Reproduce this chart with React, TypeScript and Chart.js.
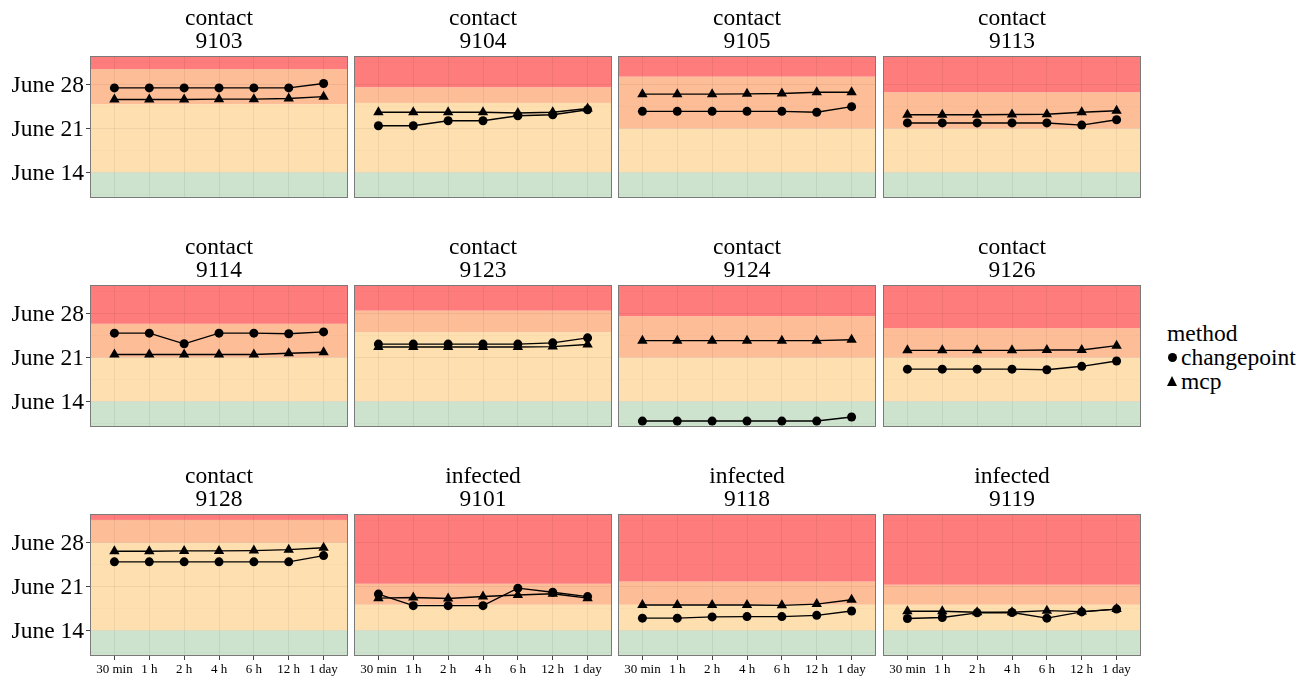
import React, { useEffect, useRef } from "react";
import { Chart, registerables } from "chart.js";
Chart.register(...registerables);

// ---------------- data ----------------
const categories = ["30 min", "1 h", "2 h", "4 h", "6 h", "12 h", "1 day"];
const groups = ["contact", "contact", "contact", "contact", "contact", "contact", "contact", "contact", "contact", "infected", "infected", "infected"];
const ids = ["9103", "9104", "9105", "9113", "9114", "9123", "9124", "9126", "9128", "9101", "9118", "9119"];

// values are day of June
const cp9103 = [27.5, 27.5, 27.5, 27.5, 27.5, 27.5, 28.2];
const mcp9103 = [25.65, 25.65, 25.65, 25.7, 25.7, 25.8, 26.1];
const cp9104 = [21.45, 21.45, 22.25, 22.25, 23.05, 23.2, 24.0];
const mcp9104 = [23.6, 23.6, 23.6, 23.6, 23.5, 23.6, 24.2];
const cp9105 = [23.75, 23.75, 23.75, 23.75, 23.75, 23.6, 24.5];
const mcp9105 = [26.5, 26.5, 26.5, 26.55, 26.6, 26.8, 26.8];
const cp9113 = [21.9, 21.9, 21.9, 21.9, 21.9, 21.55, 22.4];
const mcp9113 = [23.2, 23.2, 23.2, 23.25, 23.3, 23.6, 23.85];
const cp9114 = [24.9, 24.9, 23.2, 24.9, 24.9, 24.8, 25.1];
const mcp9114 = [21.5, 21.5, 21.5, 21.5, 21.5, 21.7, 21.85];
const cp9123 = [23.15, 23.15, 23.15, 23.15, 23.15, 23.35, 24.15];
const mcp9123 = [22.7, 22.7, 22.7, 22.7, 22.7, 22.75, 23.1];
const cp9124 = [10.85, 10.85, 10.85, 10.85, 10.85, 10.85, 11.5];
const mcp9124 = [23.7, 23.7, 23.7, 23.7, 23.7, 23.7, 23.85];
const cp9126 = [19.15, 19.15, 19.15, 19.15, 19.05, 19.6, 20.45];
const mcp9126 = [22.15, 22.15, 22.15, 22.15, 22.2, 22.2, 22.9];
const cp9128 = [24.95, 24.95, 24.95, 24.95, 24.95, 24.95, 25.95];
const mcp9128 = [26.65, 26.65, 26.7, 26.7, 26.75, 26.9, 27.2];
const cp9101 = [19.8, 17.95, 17.95, 17.95, 20.75, 20.1, 19.4];
const mcp9101 = [19.15, 19.25, 19.1, 19.4, 19.65, 19.85, 19.15];
const cp9118 = [15.95, 15.95, 16.15, 16.2, 16.2, 16.4, 17.1];
const mcp9118 = [18.05, 18.05, 18.05, 18.05, 18.0, 18.2, 18.9];
const cp9119 = [15.9, 16.05, 16.8, 16.85, 15.95, 16.95, 17.4];
const mcp9119 = [17.05, 17.05, 16.9, 16.9, 17.15, 17.0, 17.4];

const changepointSeries = [cp9103, cp9104, cp9105, cp9113, cp9114, cp9123, cp9124, cp9126, cp9128, cp9101, cp9118, cp9119];
const mcpSeries = [mcp9103, mcp9104, mcp9105, mcp9113, mcp9114, mcp9123, mcp9124, mcp9126, mcp9128, mcp9101, mcp9118, mcp9119];

// background risk bands (day of June)
const greenTop = 14;
const orangeStart = [24.9, 25.1, 21.0, 21.0, 21.0, 25.05, 21.0, 21.0, 28.0, 18.1, 18.1, 18.1];
const redStart = [30.5, 27.6, 29.3, 26.8, 26.4, 28.5, 27.6, 25.7, 31.65, 21.45, 21.8, 21.3];

const yMajorTicks = [14, 21, 28];
const yMinorTicks = [10.5, 17.5, 24.5, 31.5];
const yMin = 9.9;
const yMax = 32.6;

// ---------------- styling / layout ----------------
const FONT = "'Liberation Serif', 'Times New Roman', serif";
const panelLefts = [90, 354, 618, 883];
const panelTops = [56, 285, 514];
const PW = 258;
const PH = 142;
const TITLE_H = 56;

const bandColors = {
  green: "#CDE3CD",
  light: "#FEE0B0",
  orange: "#FDBE97",
  red: "#FF7C7C",
};

const bandsPlugin = {
  id: "bands",
  beforeDraw(chart: any, _args: any, opts: any) {
    const { ctx, chartArea } = chart;
    const y = chart.scales.y;
    const { left, right, top, bottom } = chartArea;
    const py = (v: number) => y.getPixelForValue(v);
    const fill = (y0: number, y1: number, c: string) => {
      const a = Math.max(top, Math.min(y0, y1));
      const b = Math.min(bottom, Math.max(y0, y1));
      if (b > a) {
        ctx.fillStyle = c;
        ctx.fillRect(left, a, right - left, b - a);
      }
    };
    ctx.save();
    fill(bottom, py(greenTop), bandColors.green);
    fill(py(greenTop), py(opts.orange), bandColors.light);
    fill(py(opts.orange), py(opts.red), bandColors.orange);
    fill(py(opts.red), top, bandColors.red);
    ctx.restore();
  },
};

const borderPlugin = {
  id: "panelBorder",
  afterDraw(chart: any) {
    const { ctx, chartArea } = chart;
    ctx.save();
    ctx.strokeStyle = "#7a7a7a";
    ctx.lineWidth = 1;
    ctx.strokeRect(
      Math.round(chartArea.left) + 0.5,
      Math.round(chartArea.top) + 0.5,
      Math.round(chartArea.right - chartArea.left) - 1,
      Math.round(chartArea.bottom - chartArea.top) - 1
    );
    ctx.restore();
  },
};

function Panel({ index }: { index: number }) {
  const ref = useRef<HTMLCanvasElement | null>(null);
  const r = Math.floor(index / 4);
  const c = index % 4;
  const axW = c === 0 ? 90 : 0;
  const padL = c === 0 ? 0 : 2;
  const padR = 2;
  const padB = 2;
  const xAxH = r === 2 ? 26 : 0;
  const L = panelLefts[c];
  const T = panelTops[r];
  const cx = L - axW - padL;
  const cy = T - TITLE_H;
  const width = L + PW + padR - cx;
  const height = TITLE_H + PH + xAxH + padB;

  useEffect(() => {
    const canvas = ref.current;
    if (!canvas) return;
    const cp = changepointSeries[index];
    const mcp = mcpSeries[index];
    const chart = new Chart(canvas, {
      type: "line",
      data: {
        datasets: [
          {
            label: "changepoint",
            data: cp.map((v, i) => ({ x: i, y: v })),
            borderColor: "#000",
            backgroundColor: "#000",
            borderWidth: 1.4,
            pointStyle: "circle",
            pointRadius: 4.5,
            pointBorderWidth: 0,
            pointBackgroundColor: "#000",
            tension: 0,
          },
          {
            label: "mcp",
            data: mcp.map((v, i) => ({ x: i, y: v })),
            borderColor: "#000",
            backgroundColor: "#000",
            borderWidth: 1.4,
            pointStyle: "triangle",
            pointRadius: 6,
            pointBorderWidth: 0,
            pointBackgroundColor: "#000",
            tension: 0,
          },
        ],
      },
      options: {
        animation: false,
        responsive: false,
        devicePixelRatio: 1,
        events: [],
        layout: { autoPadding: false, padding: { left: padL, right: padR, top: 0, bottom: padB } },
        plugins: {
          legend: { display: false },
          tooltip: { enabled: false },
          title: {
            display: true,
            text: [groups[index], ids[index]],
            fullSize: false,
            color: "#000",
            font: { family: FONT, size: 23.5, lineHeight: 1, weight: "normal" },
            padding: { top: 7, bottom: 2 },
          },
          bands: { orange: orangeStart[index], red: redStart[index] },
        } as any,
        scales: {
          x: {
            type: "linear",
            min: -0.7,
            max: 6.7,
            afterBuildTicks: (s: any) => {
              s.ticks = categories.map((_, i) => ({ value: i }));
            },
            afterFit: (s: any) => {
              s.height = xAxH;
              s.paddingLeft = 0;
              s.paddingRight = 0;
            },
            ticks: {
              display: r === 2,
              autoSkip: false,
              maxRotation: 0,
              minRotation: 0,
              padding: 2,
              color: "#000",
              font: { family: FONT, size: 13 },
              callback: (v: any) => categories[Math.round(Number(v))] ?? "",
            },
            grid: {
              color: "rgba(0,0,0,0.06)",
              lineWidth: 1,
              drawTicks: r === 2,
              tickLength: 4,
              tickColor: "#444",
            },
            border: { display: false },
          },
          y: {
            type: "linear",
            min: yMin,
            max: yMax,
            afterBuildTicks: (s: any) => {
              s.ticks = [...yMinorTicks, ...yMajorTicks]
                .sort((a, b) => a - b)
                .map((v) => ({ value: v }));
            },
            afterFit: (s: any) => {
              s.width = axW;
              s.paddingTop = 0;
              s.paddingBottom = 0;
            },
            ticks: {
              display: c === 0,
              autoSkip: false,
              padding: 2,
              labelOffset: 1.5,
              color: "#000",
              font: { family: FONT, size: 23.5 },
              callback: (v: any) => (yMajorTicks.includes(Number(v)) ? `June ${v}` : ""),
            },
            grid: {
              color: (ctx: any) =>
                yMajorTicks.includes(ctx.tick?.value) ? "rgba(0,0,0,0.06)" : "rgba(0,0,0,0.035)",
              lineWidth: (ctx: any) => (yMajorTicks.includes(ctx.tick?.value) ? 1 : 0.6),
              drawTicks: c === 0,
              tickLength: 4,
              tickColor: (ctx: any) =>
                yMajorTicks.includes(ctx.tick?.value) ? "#444" : "rgba(0,0,0,0)",
            },
            border: { display: false },
          },
        },
      },
      plugins: [bandsPlugin, borderPlugin],
    } as any);
    return () => chart.destroy();
  }, [index]);

  return (
    <canvas
      ref={ref}
      width={width}
      height={height}
      style={{ position: "absolute", left: cx, top: cy, width, height }}
    />
  );
}

export default function App() {
  const textStyle: React.CSSProperties = {
    position: "absolute",
    fontFamily: FONT,
    fontSize: 23.5,
    lineHeight: "23px",
    color: "#000",
    whiteSpace: "nowrap",
  };
  return (
    <div style={{ position: "absolute", left: 0, top: 0, width: 1309, height: 680, background: "#fff" }}>
      {ids.map((_, i) => (
        <Panel key={i} index={i} />
      ))}
      <div style={{ ...textStyle, left: 1167, top: 321.5 }}>method</div>
      <div
        style={{
          position: "absolute",
          left: 1167.5,
          top: 352.5,
          width: 9,
          height: 9,
          borderRadius: "50%",
          background: "#000",
        }}
      />
      <div style={{ ...textStyle, left: 1181, top: 345.5 }}>changepoint</div>
      <div
        style={{
          position: "absolute",
          left: 1166.5,
          top: 376,
          width: 0,
          height: 0,
          borderLeft: "5.5px solid transparent",
          borderRight: "5.5px solid transparent",
          borderBottom: "10px solid #000",
        }}
      />
      <div style={{ ...textStyle, left: 1181, top: 369.5 }}>mcp</div>
    </div>
  );
}
